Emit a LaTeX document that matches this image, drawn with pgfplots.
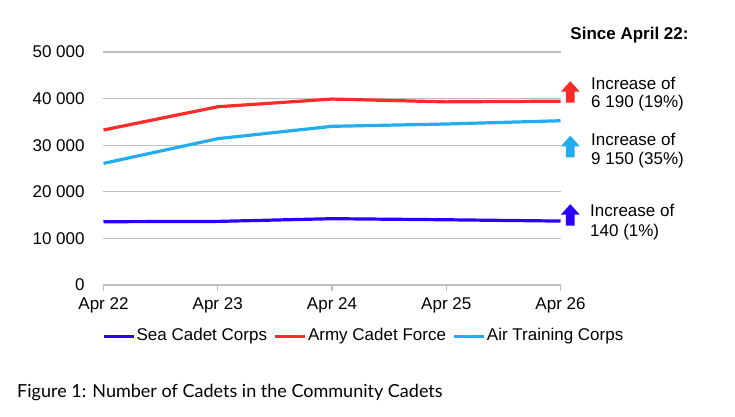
\documentclass[border=0pt]{standalone}
\usepackage{fontspec}
\setmainfont{Liberation Sans}
\newfontfamily\capfont{Lato}
\usepackage{pgfplots}
\pgfplotsset{compat=1.18}
\definecolor{seablue}{HTML}{2B00FF}
\definecolor{armyred}{HTML}{FF2B2B}
\definecolor{airblue}{HTML}{22AEEE}
\definecolor{gridgray}{HTML}{BFBFBF}
\newcommand{\uparr}[3]{\fill[#1] (#2,#3) ++(-4.4,0) -- ++(8.8,0) -- ++(0,11) -- ++(5.1,0) -- ++(-9.5,10.5) -- ++(-9.5,-10.5) -- ++(5.1,0) -- cycle;}
\begin{document}
\fontsize{17bp}{20bp}\selectfont
\begin{tikzpicture}[x=1bp,y=1bp]
\useasboundingbox (-103.5,-131) rectangle (631.5,285);
\begin{axis}[
  at={(0,0)}, anchor=south west,
  scale only axis, width=457bp, height=233bp,
  xmin=0, xmax=4, ymin=0, ymax=50000,
  scaled y ticks=false,
  xtick={0,1,2,3,4},
  xticklabels={Apr 22,Apr 23,Apr 24,Apr 25,Apr 26},
  ytick={0,10000,20000,30000,40000,50000},
  yticklabels={0,10 000,20 000,30 000,40 000,50 000},
  axis line style={draw=none},
  ymajorgrids, grid style={gridgray, line width=1.2bp},
  xtick pos=bottom, ytick pos=left,
  tick align=outside, major tick length=6bp,
  xtick style={gridgray, line width=1.2bp},
  ytick style={draw=none},
  xticklabel style={yshift=-1bp},
  yticklabel style={xshift=-7bp},
  clip=false,
  legend style={at={(260/457, -51/233)}, anchor=center, draw=none, fill=none,
    legend columns=3, nodes={inner sep=1.5bp},
    /tikz/every even column/.append style={column sep=5bp}},
  legend image code/.code={\draw[#1, line width=3bp] (0bp,0bp) -- (30bp,0bp);},
]
\addplot[seablue, line width=3.2bp] coordinates {(0,13580) (1,13650) (2,14230) (3,14000) (4,13720)};
\addlegendentry{Sea Cadet Corps}
\addplot[armyred, line width=3.2bp] coordinates {(0,33260) (1,38250) (2,39900) (3,39300) (4,39450)};
\addlegendentry{Army Cadet Force}
\addplot[airblue, line width=3.2bp] coordinates {(0,26100) (1,31400) (2,34050) (3,34550) (4,35250)};
\addlegendentry{Air Training Corps}
\end{axis}
\node[font=\bfseries] at (526,250) {Since April 22:};
\uparr{armyred}{466.8}{182.3}
\uparr{airblue}{466.8}{127.7}
\uparr{seablue}{466.8}{59.3}
\node[anchor=base west, inner sep=0] at (487.5,195.7) {Increase of};
\node[anchor=base west, inner sep=0] at (487.5,177.3) {6 190 (19\%)};
\node[anchor=base west, inner sep=0] at (487.5,140) {Increase of};
\node[anchor=base west, inner sep=0] at (487.5,120.7) {9 150 (35\%)};
\node[anchor=base west, inner sep=0] at (486.5,68.3) {Increase of};
\node[anchor=base west, inner sep=0] at (486.5,49) {140 (1\%)};
\node[anchor=base west, inner sep=0, font=\capfont\fontsize{18bp}{21bp}\selectfont] at (-86.5,-112.7) {Figure 1: Number of Cadets in the Community Cadets};
\end{tikzpicture}
\end{document}
